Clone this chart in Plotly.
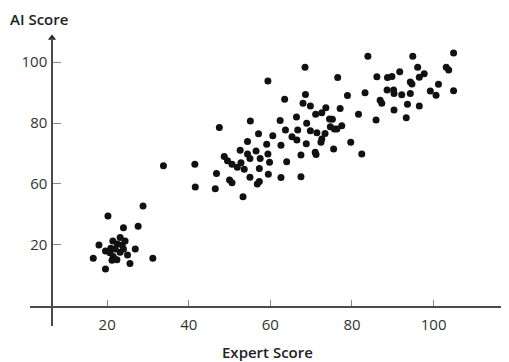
import plotly.graph_objects as go

# ---- data (y in the chart's drawn scale) ----
expert_score = [
    28.8, 20.2, 24.0, 27.6, 21.4, 23.2, 18.0, 23.7, 19.6, 20.9, 24.0, 26.9, 16.6, 21.5, 22.4,
    25.0, 25.6, 31.2, 19.6, 21.2, 23.2, 22.5, 24.4, 20.7, 22.0,
    33.8, 41.5, 41.6, 46.5, 46.8, 48.7, 49.5, 50.6, 50.0, 50.6, 52.6, 52.8, 51.9, 53.6, 54.4,
    53.3, 55.0, 47.5, 55.1, 59.4, 68.5, 76.5, 68.6, 63.5, 68.0, 69.8, 62.4, 66.4, 73.6, 72.6,
    71.1, 75.2, 68.9, 63.7, 57.1, 60.6, 66.7, 69.8, 71.4, 73.4, 75.7, 65.3, 66.5, 54.4, 59.1,
    62.6, 68.8, 72.6, 56.5, 59.4, 67.5, 71.2, 75.5, 55.0, 57.5, 64.0, 59.8, 57.3, 59.5, 62.6,
    67.5, 56.8, 57.3, 72.4, 71.0,
    83.9, 86.1, 88.7, 78.9, 83.2, 86.9, 87.3, 88.6, 77.1, 81.6, 85.9, 74.5, 77.5, 76.3, 74.7,
    79.7, 82.4, 94.9, 104.9, 89.8, 91.7, 96.1, 97.7, 96.5, 103.1, 103.7, 94.3, 94.7, 101.2,
    90.2, 90.3, 92.2, 94.3, 99.2, 100.6, 104.9, 90.3, 93.6, 96.5, 93.3,
]
ai_score = [
    52.8, 49.5, 45.6, 46.1, 41.3, 42.4, 40.0, 40.0, 38.0, 38.9, 38.7, 38.7, 35.6, 36.2, 35.1,
    36.7, 33.9, 35.6, 32.1, 35.0, 37.6, 40.3, 41.3, 37.4, 38.7,
    66.0, 66.5, 59.0, 58.4, 63.4, 69.0, 67.6, 66.5, 61.3, 60.4, 71.1, 67.0, 65.5, 64.8, 69.8,
    55.8, 62.2, 78.5, 80.7, 93.8, 98.3, 94.9, 89.4, 87.8, 86.5, 85.6, 80.8, 82.0, 85.0, 83.4,
    82.9, 81.2, 79.9, 77.7, 76.5, 75.8, 77.7, 77.5, 76.8, 76.6, 78.0, 75.5, 74.4, 73.9, 73.0,
    72.7, 73.2, 74.8, 70.8, 69.8, 69.5, 69.7, 71.5, 68.4, 68.4, 67.3, 67.1, 65.1, 63.2, 62.1,
    62.4, 60.0, 60.8, 73.7, 70.4,
    101.9, 95.2, 94.9, 89.0, 89.9, 87.5, 86.5, 90.8, 84.8, 82.9, 81.0, 81.3, 79.1, 78.0, 78.8,
    73.7, 69.8, 101.9, 103.0, 95.3, 96.8, 98.3, 96.2, 95.0, 98.3, 97.4, 93.5, 92.8, 92.7,
    90.8, 89.7, 89.3, 89.7, 90.5, 89.1, 90.6, 84.3, 86.2, 85.6, 81.7,
]

x_tick_vals = [20, 40, 60, 80, 100]
x_tick_text = ["20", "40", "60", "80", "100"]
y_tick_vals = [40, 60, 80, 100]
y_tick_text = ["20", "60", "80", "100"]

x_range = [1.1, 117.5]
y_range = [13.4, 107.9]
x_axis_at_y = 19.7
y_axis_at_x = 6.5

FONT = "Open Sans, Noto Sans, sans-serif"
AXIS_COLOR = "#4a4a4a"
TEXT_COLOR = "#333333"

fig = go.Figure()
fig.add_trace(go.Scatter(
    x=expert_score, y=ai_score, mode="markers",
    marker=dict(size=7, color="#111111", line=dict(width=0)),
    hoverinfo="x+y", showlegend=False,
))
# arrowheads at the ends of the axes
fig.add_trace(go.Scatter(
    x=[y_axis_at_x, x_range[1]], y=[y_range[1], x_axis_at_y], mode="markers",
    marker=dict(symbol=["triangle-up", "triangle-right"], size=7, color="#222222"),
    cliponaxis=False, hoverinfo="skip", showlegend=False,
))

x_pos = (y_axis_at_x - x_range[0]) / (x_range[1] - x_range[0])
y_pos = (x_axis_at_y - y_range[0]) / (y_range[1] - y_range[0])

fig.update_layout(
    width=509, height=362,
    margin=dict(l=22, r=12, t=30, b=44),
    paper_bgcolor="white", plot_bgcolor="white",
    font=dict(family=FONT, size=15, color=TEXT_COLOR),
    xaxis=dict(
        range=x_range, showgrid=False, zeroline=False,
        showline=True, linecolor=AXIS_COLOR, linewidth=1.5,
        anchor="free", position=y_pos,
        tickvals=x_tick_vals, ticktext=x_tick_text,
        ticks="inside", ticklen=6, tickwidth=1, tickcolor="#888888",
        tickfont=dict(family=FONT, size=15, color=TEXT_COLOR),
        ticklabelstandoff=4,
    ),
    yaxis=dict(
        range=y_range, showgrid=False, zeroline=False,
        showline=True, linecolor=AXIS_COLOR, linewidth=1.5,
        anchor="free", position=x_pos,
        tickvals=y_tick_vals, ticktext=y_tick_text,
        ticks="inside", ticklen=8, tickwidth=1, tickcolor="#888888",
        tickfont=dict(family=FONT, size=15, color=TEXT_COLOR),
        ticklabelstandoff=1,
    ),
    annotations=[
        dict(text="AI Score", xref="paper", yref="paper",
             x=-0.046, y=1.066, xanchor="left", yanchor="middle", showarrow=False,
             font=dict(family=FONT, size=15, color="#222222", weight=600)),
        dict(text="Expert Score", xref="paper", yref="paper",
             x=0.5, y=-0.09, xanchor="center", yanchor="middle", showarrow=False,
             font=dict(family=FONT, size=15, color="#222222", weight=600)),
    ],
)

fig.write_html("out.html")
